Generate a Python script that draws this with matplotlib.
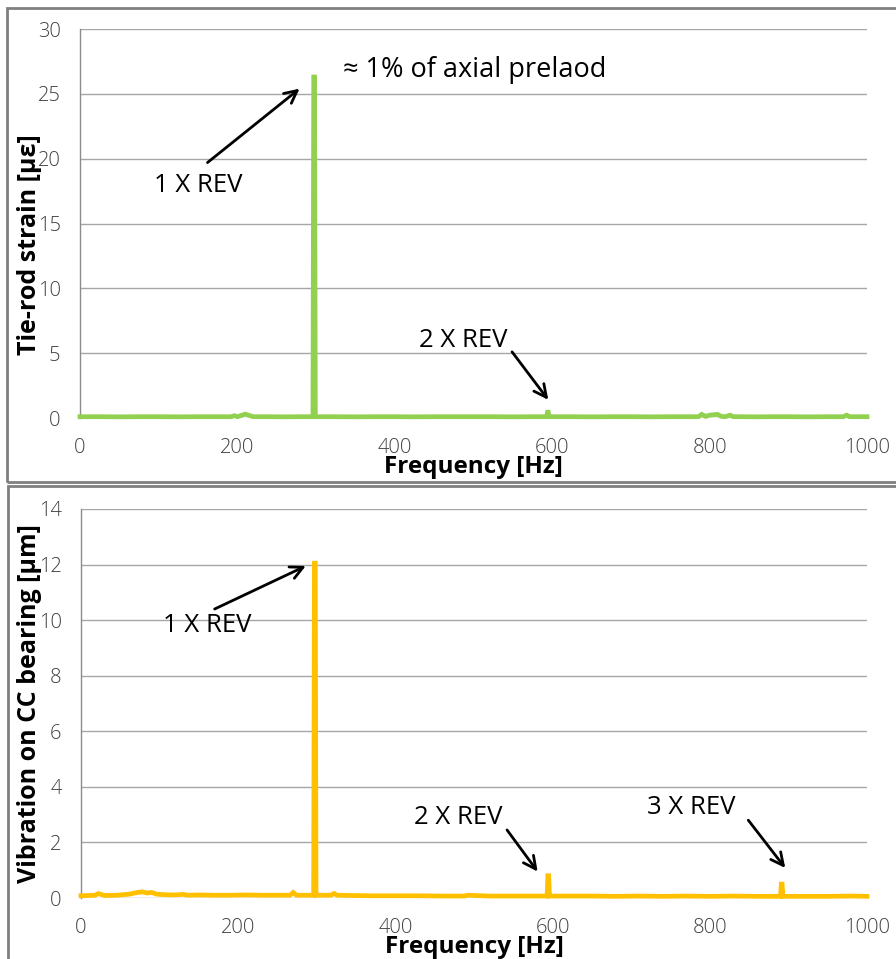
import matplotlib
matplotlib.use("Agg")
import matplotlib.pyplot as plt
from matplotlib.patches import Rectangle

# Tie-rod strain spectrum
strain_freq = [0, 25, 50, 75, 100, 125, 150, 175, 192, 196, 200, 206, 210, 214, 220, 240, 260, 280,
               296, 297, 298, 299, 320, 350, 375, 400, 425, 450, 475, 500, 525, 550, 575,
               593, 594, 595, 596, 597, 625, 650, 675, 700, 725, 750, 775, 786, 790, 795, 800,
               805, 810, 815, 820, 826, 830, 840, 860, 880, 900, 925, 950, 970, 974, 978, 990, 1000]
strain_amp = [0.10, 0.10, 0.09, 0.10, 0.10, 0.09, 0.10, 0.10, 0.10, 0.18, 0.10, 0.22, 0.30, 0.22, 0.10, 0.10, 0.09, 0.10,
              0.10, 26.3, 26.3, 0.10, 0.10, 0.09, 0.10, 0.10, 0.09, 0.10, 0.10, 0.10, 0.10, 0.09, 0.10,
              0.10, 0.45, 0.45, 0.10, 0.10, 0.10, 0.09, 0.10, 0.10, 0.09, 0.10, 0.10, 0.10, 0.28, 0.12, 0.22,
              0.25, 0.28, 0.12, 0.10, 0.22, 0.10, 0.10, 0.09, 0.10, 0.10, 0.09, 0.10, 0.10, 0.22, 0.10, 0.10, 0.10]

# Vibration spectrum on the CC bearing
vib_freq = [0, 10, 18, 22, 30, 45, 55, 62, 68, 72, 78, 84, 90, 96, 105, 118, 130, 136, 150, 170, 190,
            210, 230, 250, 266, 270, 274, 285, 296, 297, 298, 299, 318, 322, 326, 345, 370, 400,
            430, 460, 488, 492, 520, 550, 575, 593, 594, 595, 596, 597, 625, 650, 680, 710, 740, 770,
            800, 830, 860, 890, 891, 892, 893, 894, 920, 950, 980, 1000]
vib_amp = [0.08, 0.09, 0.10, 0.16, 0.09, 0.10, 0.12, 0.14, 0.18, 0.20, 0.22, 0.18, 0.20, 0.14, 0.12, 0.11, 0.13, 0.10, 0.11, 0.10, 0.10,
           0.11, 0.10, 0.10, 0.10, 0.20, 0.10, 0.10, 0.10, 12.05, 12.05, 0.10, 0.10, 0.16, 0.10, 0.09, 0.08, 0.08,
           0.08, 0.07, 0.07, 0.10, 0.07, 0.07, 0.07, 0.07, 0.80, 0.80, 0.07, 0.07, 0.07, 0.07, 0.06, 0.07, 0.06, 0.07,
           0.06, 0.07, 0.06, 0.06, 0.50, 0.50, 0.06, 0.06, 0.06, 0.06, 0.07, 0.06]

x_ticks = [0, 200, 400, 600, 800, 1000]
strain_ticks = [0, 5, 10, 15, 20, 25, 30]
vib_ticks = [0, 2, 4, 6, 8, 10, 12, 14]

GREEN = "#92d050"
ORANGE = "#ffc000"
GRID = "#a6a6a6"
TICK_COLOR = "#404040"
LABEL_FONT = "Open Sans"

fig = plt.figure(figsize=(8.96, 9.59), dpi=100)

# panel frames
fig.patches.append(Rectangle((7 / 896, 1 - 482 / 959), 1.0, (482 - 8) / 959,
                             transform=fig.transFigure, fill=False,
                             edgecolor="#808080", linewidth=2.0))
fig.patches.append(Rectangle((8 / 896, -0.05), 1.0, 0.05 + (959 - 486) / 959,
                             transform=fig.transFigure, fill=False,
                             edgecolor="#808080", linewidth=2.0))


def style_axes(ax, yticks, ylabel, color, freq, amp, ylab_x, ylab_y):
    ax.plot(freq, amp, color=color, linewidth=3.4, solid_joinstyle="miter",
            clip_on=False, zorder=3)
    ax.set_xlim(0, 1000)
    ax.set_ylim(yticks[0], yticks[-1])
    ax.set_xticks(x_ticks)
    ax.set_yticks(yticks)
    ax.grid(axis="y", color=GRID, linewidth=1.0)
    ax.set_axisbelow(True)
    for s in ("top", "right", "bottom"):
        ax.spines[s].set_visible(False)
    ax.spines["left"].set_color("#8c8c8c")
    ax.spines["left"].set_linewidth(1.0)
    ax.tick_params(axis="both", length=0, labelsize=14.5, labelcolor=TICK_COLOR)
    ax.tick_params(axis="x", pad=14.5)
    ax.tick_params(axis="y", pad=14)
    for lab in ax.get_xticklabels() + ax.get_yticklabels():
        lab.set_family(LABEL_FONT)
        lab.set_fontweight("light")
    ax.set_xlabel("Frequency [Hz]", fontsize=17.5, fontweight="bold",
                  family=LABEL_FONT, labelpad=-2.5, color="black")
    ax.set_ylabel(ylabel, fontsize=18, fontweight="bold", family=LABEL_FONT,
                  color="black")
    ax.yaxis.set_label_coords(ylab_x, ylab_y)


arrow = dict(arrowstyle="->,head_length=0.9,head_width=0.45", color="black",
             linewidth=2.0, shrinkA=0, shrinkB=0)
ann_font = dict(fontsize=18.5, family=LABEL_FONT, color="black", ha="center", va="center")

# strain panel
ax1 = fig.add_axes([80 / 896, 1 - 418 / 959, 787 / 896, 389 / 959])
style_axes(ax1, strain_ticks, "Tie-rod strain [με]", GREEN, strain_freq, strain_amp, -0.048, 0.445)
ax1.annotate("", xy=(279, 25.4), xytext=(162, 19.7), arrowprops=arrow)
ax1.text(150, 17.9, "1 X REV", **ann_font)
ax1.text(334, 26.8, "≈ 1% of axial prelaod", fontsize=19.5, family=LABEL_FONT,
         color="black", ha="left", va="center")
ax1.annotate("", xy=(595, 1.4), xytext=(549, 5.1), arrowprops=arrow)
ax1.text(487, 6.0, "2 X REV", **ann_font)

# vibration panel
ax2 = fig.add_axes([81 / 896, 1 - 898 / 959, 786 / 896, 389 / 959])
style_axes(ax2, vib_ticks, "Vibration on CC bearing [μm]", ORANGE, vib_freq, vib_amp, -0.05, 0.5)
ax2.annotate("", xy=(286, 11.95), xytext=(170, 10.4), arrowprops=arrow)
ax2.text(161, 9.8, "1 X REV", **ann_font)
ax2.annotate("", xy=(581, 0.95), xytext=(542, 2.45), arrowprops=arrow)
ax2.text(480, 2.9, "2 X REV", **ann_font)
ax2.annotate("", xy=(896, 1.08), xytext=(849, 2.8), arrowprops=arrow)
ax2.text(777, 3.27, "3 X REV", **ann_font)

fig.savefig("out.png", dpi=100)
